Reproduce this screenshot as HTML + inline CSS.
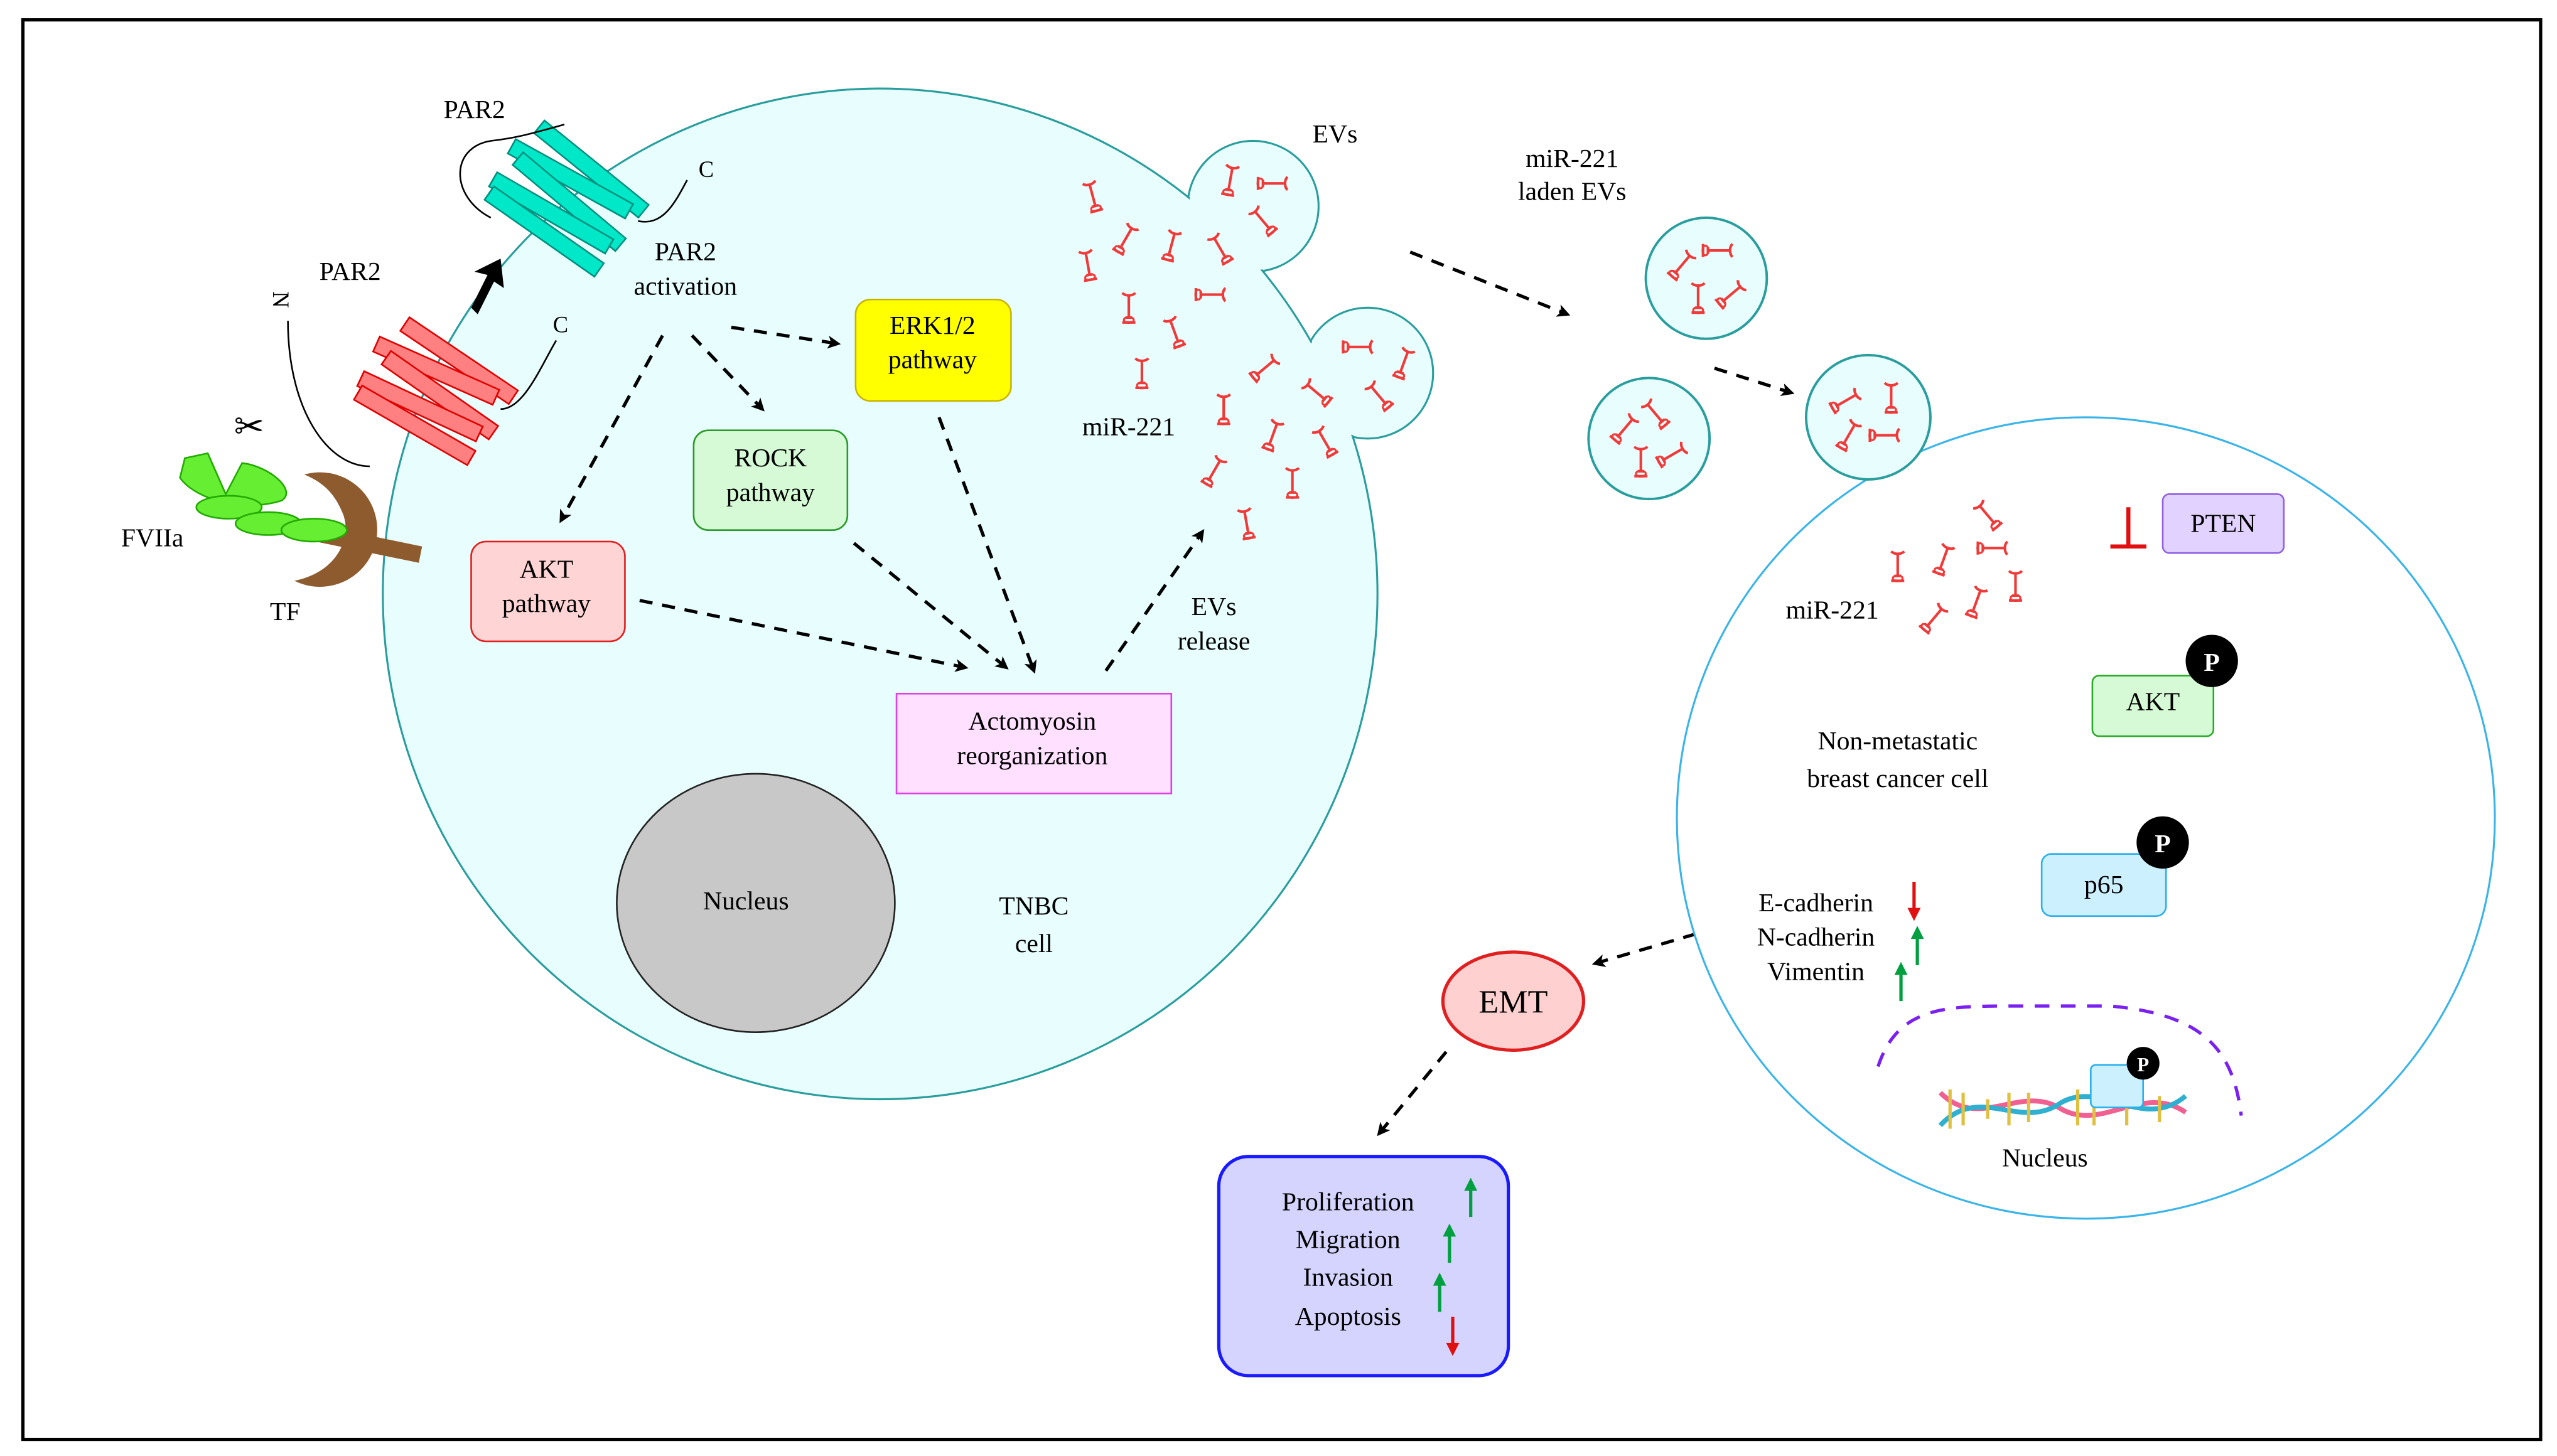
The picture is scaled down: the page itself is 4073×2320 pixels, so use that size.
<!DOCTYPE html>
<html><head><meta charset="utf-8"><style>
html,body{margin:0;padding:0;background:#fff}
svg{display:block}
svg text{font-family:"Liberation Serif","DejaVu Serif",serif}
</style></head><body>
<svg width="4073" height="2320" viewBox="0 0 1563 890" xmlns="http://www.w3.org/2000/svg" font-family="Liberation Serif, serif">
<defs>
<marker id="ah" markerWidth="8" markerHeight="8" refX="6" refY="4" orient="auto" markerUnits="userSpaceOnUse"><path d="M0,0 L8,4 L0,8 L2,4 Z" fill="#000"/></marker>
<g id="mi"><path d="M-4,-9 C-2,-7 2,-7 4,-9 M0,-8 L0,6 M-4,9 L4,9 M-2,6 L2,6" stroke="#f03a3a" stroke-width="1.6" fill="none"/><ellipse cx="0" cy="7.5" rx="3" ry="1.8" fill="none" stroke="#f03a3a" stroke-width="1.2"/></g>
<g id="up"><path d="M0,12 L0,-6" stroke="#00a040" stroke-width="2"/><path d="M-4,-4 L0,-12 L4,-4 Z" fill="#00a040"/></g>
<g id="dn"><path d="M0,-12 L0,6" stroke="#e01010" stroke-width="2"/><path d="M-4,4 L0,12 L4,4 Z" fill="#e01010"/></g>
</defs>
<rect x="0" y="0" width="1563" height="890" fill="#fff"/>
<rect x="14" y="12" width="1539" height="868" fill="none" stroke="#000" stroke-width="2"/>

<!-- TNBC cell -->
<circle cx="766" cy="126" r="40" fill="#e8fdfd" stroke="#2a9d9d" stroke-width="1.2"/>
<circle cx="836" cy="228" r="40" fill="#e8fdfd" stroke="#2a9d9d" stroke-width="1.2"/>
<ellipse cx="538" cy="363" rx="304" ry="309" fill="#e8fdfd" stroke="#2a9d9d" stroke-width="1.2"/>
<circle cx="766" cy="126" r="39" fill="#e8fdfd"/>
<circle cx="836" cy="228" r="39" fill="#e8fdfd"/>

<ellipse cx="462" cy="552" rx="85" ry="79" fill="#c8c8c8" stroke="#222" stroke-width="1"/>
<text x="456" y="556" font-size="16" text-anchor="middle">Nucleus</text>
<text x="632" y="559" font-size="16" text-anchor="middle">TNBC</text>
<text x="632" y="582" font-size="16" text-anchor="middle">cell</text>

<!-- PAR2 receptors -->
<g transform="translate(265,240) rotate(30)" fill="#ff8080" stroke="#e00000" stroke-width="1">
<rect x="-38" y="-30" width="80" height="10" transform="rotate(4)"/><rect x="-44" y="-18" width="80" height="10" transform="rotate(-6)"/><rect x="-36" y="-6" width="80" height="10" transform="rotate(5)"/><rect x="-44" y="6" width="80" height="10" transform="rotate(-5)"/><rect x="-40" y="18" width="80" height="10"/>
</g>
<path d="M176,196 C176,250 200,285 226,285" stroke="#000" fill="none"/>
<path d="M306,250 C320,250 330,225 340,208" stroke="#000" fill="none"/>
<text x="165" y="190" font-size="14" transform="rotate(90 172 185)">N</text>
<text x="338" y="203" font-size="14">C</text>
<g transform="translate(345,122) rotate(35)" fill="#00e8c8" stroke="#009080" stroke-width="1">
<rect x="-40" y="-30" width="82" height="10" transform="rotate(4)"/><rect x="-44" y="-18" width="82" height="10" transform="rotate(-6)"/><rect x="-38" y="-6" width="82" height="10" transform="rotate(5)"/><rect x="-44" y="6" width="82" height="10" transform="rotate(-5)"/><rect x="-40" y="18" width="82" height="10"/>
</g>
<path d="M300,133 C275,120 275,90 300,86 C318,84 330,80 345,76" stroke="#000" fill="none"/>
<path d="M390,135 C405,138 412,125 420,110" stroke="#000" fill="none"/>
<text x="427" y="108" font-size="14">C</text>
<path d="M288,188 L298,168 L290,166 L306,158 L308,176 L302,172 L292,192 Z" fill="#000"/>
<text x="290" y="72" font-size="16" text-anchor="middle">PAR2</text>
<text x="214" y="171" font-size="16" text-anchor="middle">PAR2</text>
<text x="419" y="159" font-size="16" text-anchor="middle">PAR2</text>
<text x="419" y="180" font-size="16" text-anchor="middle">activation</text>
<text x="143" y="268" font-size="22">✂</text>

<!-- FVIIa / TF -->
<path d="M195,321 L258,334 L256,344 L193,331 Z" fill="#8d5b2e"/>
<path d="M186,290 A35,35 0 1,1 180,355 C205,350 215,330 210,315 C205,302 198,295 186,290 Z" fill="#8d5b2e"/>
<path d="M113,280 L127,277 L138,302 L148,283 C165,285 182,300 172,306 C150,313 120,306 110,292 Z" fill="#66ee33" stroke="#22aa00"/>
<ellipse cx="140" cy="310" rx="20" ry="7" fill="#66ee33" stroke="#22aa00"/>
<ellipse cx="164" cy="320" rx="20" ry="7" fill="#66ee33" stroke="#22aa00"/>
<ellipse cx="192" cy="324" rx="20" ry="7" fill="#66ee33" stroke="#22aa00"/>
<text x="74" y="334" font-size="16">FVIIa</text>
<text x="165" y="379" font-size="16">TF</text>

<!-- boxes -->
<rect x="523" y="183" width="95" height="62" rx="9" fill="#ffff00" stroke="#c8b400"/>
<text x="570" y="204" font-size="16" text-anchor="middle">ERK1/2</text>
<text x="570" y="225" font-size="16" text-anchor="middle">pathway</text>
<rect x="424" y="263" width="94" height="61" rx="9" fill="#d6fad6" stroke="#2a9a2a"/>
<text x="471" y="285" font-size="16" text-anchor="middle">ROCK</text>
<text x="471" y="306" font-size="16" text-anchor="middle">pathway</text>
<rect x="288" y="331" width="94" height="61" rx="9" fill="#ffd4d4" stroke="#e02020"/>
<text x="334" y="353" font-size="16" text-anchor="middle">AKT</text>
<text x="334" y="374" font-size="16" text-anchor="middle">pathway</text>
<rect x="548" y="424" width="168" height="61" fill="#ffe0ff" stroke="#e040e0"/>
<text x="631" y="446" font-size="16" text-anchor="middle">Actomyosin</text>
<text x="631" y="467" font-size="16" text-anchor="middle">reorganization</text>

<!-- arrows -->
<g stroke="#000" stroke-width="2" stroke-dasharray="8,6" fill="none" marker-end="url(#ah)">
<path d="M405,205 L343,318"/>
<path d="M423,205 L466,250"/>
<path d="M447,200 L512,210"/>
<path d="M391,367 L590,408"/>
<path d="M522,332 L615,408"/>
<path d="M574,255 L632,410"/>
<path d="M676,410 L735,325"/>
<path d="M862,154 L958,192"/>
<path d="M1048,225 L1095,240"/>
<path d="M1165,290 L1172,315"/>
<path d="M1248,332 L1278,328"/>
<path d="M1346,350 L1318,396"/>
<path d="M1294,462 L1285,512"/>
<path d="M1283,572 L1292,640"/>
<path d="M1050,567 L975,589"/>
<path d="M884,643 L843,693"/>
<path d="M1226,672 L1226,600 L1185,600"/>
</g>
<text x="742" y="376" font-size="16" text-anchor="middle">EVs</text>
<text x="742" y="397" font-size="16" text-anchor="middle">release</text>
<text x="816" y="87" font-size="16" text-anchor="middle">EVs</text>
<text x="690" y="266" font-size="16" text-anchor="middle">miR-221</text>
<text x="961" y="102" font-size="16" text-anchor="middle">miR-221</text>
<text x="961" y="122" font-size="16" text-anchor="middle">laden EVs</text>

<!-- miRNA in TNBC -->
<use href="#mi" transform="translate(668,120) rotate(-15)"/>
<use href="#mi" transform="translate(688,146) rotate(30)"/>
<use href="#mi" transform="translate(716,150) rotate(15)"/>
<use href="#mi" transform="translate(746,152) rotate(-30)"/>
<use href="#mi" transform="translate(665,162) rotate(-10)"/>
<use href="#mi" transform="translate(690,188)"/>
<use href="#mi" transform="translate(740,180) rotate(90)"/>
<use href="#mi" transform="translate(718,203) rotate(-20)"/>
<use href="#mi" transform="translate(698,228)"/>
<use href="#mi" transform="translate(752,110) rotate(10)"/>
<use href="#mi" transform="translate(778,112) rotate(90)"/>
<use href="#mi" transform="translate(772,135) rotate(-40)"/>
<use href="#mi" transform="translate(773,225) rotate(50)"/>
<use href="#mi" transform="translate(805,240) rotate(-50)"/>
<use href="#mi" transform="translate(830,212) rotate(90)"/>
<use href="#mi" transform="translate(858,222) rotate(20)"/>
<use href="#mi" transform="translate(843,242) rotate(-40)"/>
<use href="#mi" transform="translate(748,250)"/>
<use href="#mi" transform="translate(778,266) rotate(20)"/>
<use href="#mi" transform="translate(810,270) rotate(-30)"/>
<use href="#mi" transform="translate(742,288) rotate(30)"/>
<use href="#mi" transform="translate(790,295)"/>
<use href="#mi" transform="translate(762,320) rotate(-10)"/>

<!-- right cell -->
<ellipse cx="1275" cy="500" rx="250" ry="245" fill="#fff" stroke="#3ab4e8" stroke-width="1.2"/>
<circle cx="1043" cy="170" r="37" fill="#e8fdfd" stroke="#2a9d9d" stroke-width="1.5"/>
<circle cx="1008" cy="268" r="37" fill="#e8fdfd" stroke="#2a9d9d" stroke-width="1.5"/>
<circle cx="1142" cy="255" r="38" fill="#e8fdfd" stroke="#2a9d9d" stroke-width="1.5"/>
<use href="#mi" transform="translate(1028,162) rotate(40)"/>
<use href="#mi" transform="translate(1050,153) rotate(90)"/>
<use href="#mi" transform="translate(1038,182)"/>
<use href="#mi" transform="translate(1058,180) rotate(50)"/>
<use href="#mi" transform="translate(993,262) rotate(40)"/>
<use href="#mi" transform="translate(1012,253) rotate(-40)"/>
<use href="#mi" transform="translate(1003,282)"/>
<use href="#mi" transform="translate(1022,278) rotate(60)"/>
<use href="#mi" transform="translate(1128,245) rotate(60)"/>
<use href="#mi" transform="translate(1156,243)"/>
<use href="#mi" transform="translate(1130,266) rotate(30)"/>
<use href="#mi" transform="translate(1152,266) rotate(90)"/>
<use href="#mi" transform="translate(1215,315) rotate(-40)"/>
<use href="#mi" transform="translate(1218,335) rotate(90)"/>
<use href="#mi" transform="translate(1160,346)"/>
<use href="#mi" transform="translate(1188,342) rotate(20)"/>
<use href="#mi" transform="translate(1232,358)"/>
<use href="#mi" transform="translate(1208,368) rotate(20)"/>
<use href="#mi" transform="translate(1182,378) rotate(40)"/>
<text x="1120" y="378" font-size="16" text-anchor="middle">miR-221</text>
<path d="M1301,310 L1301,334 M1290,334 L1312,334" stroke="#e01010" stroke-width="2.5"/>
<rect x="1322" y="302" width="74" height="36" rx="4" fill="#e2d2ff" stroke="#9060e0"/>
<text x="1359" y="325" font-size="16" text-anchor="middle">PTEN</text>
<rect x="1279" y="413" width="74" height="37" rx="4" fill="#d6fad6" stroke="#2aaa2a"/>
<text x="1316" y="434" font-size="16" text-anchor="middle">AKT</text>
<circle cx="1352" cy="404" r="16" fill="#000"/>
<text x="1352" y="410" font-size="16" font-weight="bold" text-anchor="middle" fill="#fff">P</text>
<rect x="1248" y="522" width="76" height="38" rx="6" fill="#cdf0ff" stroke="#2ab0ea"/>
<text x="1286" y="546" font-size="16" text-anchor="middle">p65</text>
<circle cx="1322" cy="515" r="16" fill="#000"/>
<text x="1322" y="521" font-size="16" font-weight="bold" text-anchor="middle" fill="#fff">P</text>
<text x="1160" y="458" font-size="16" text-anchor="middle">Non-metastatic</text>
<text x="1160" y="481" font-size="16" text-anchor="middle">breast cancer cell</text>
<text x="1110" y="557" font-size="16" text-anchor="middle">E-cadherin</text>
<text x="1110" y="578" font-size="16" text-anchor="middle">N-cadherin</text>
<text x="1110" y="599" font-size="16" text-anchor="middle">Vimentin</text>
<use href="#dn" x="1170" y="551"/>
<use href="#up" x="1172" y="578"/>
<use href="#up" x="1162" y="600"/>
<path d="M1148,652 C1160,615 1190,615 1230,615 L1290,615 C1345,620 1365,640 1370,682" stroke="#7a20f0" stroke-width="2" stroke-dasharray="9,7" fill="none"/>
<!-- DNA -->
<g stroke-width="3" fill="none">
<path d="M1186,668 C1210,692 1235,662 1260,678 C1285,692 1310,662 1336,680" stroke="#f06090"/>
<path d="M1186,688 C1210,662 1235,692 1260,674 C1285,660 1310,692 1336,670" stroke="#30b0d0"/>
<path d="M1192,666 L1192,690 M1200,668 L1200,688 M1215,672 L1215,684 M1228,668 L1228,688 M1240,668 L1240,686 M1270,666 L1270,688 M1280,668 L1280,688 M1300,668 L1300,688 M1320,670 L1320,686" stroke="#e0c040" stroke-width="2"/>
</g>
<rect x="1278" y="651" width="32" height="26" rx="3" fill="#cdf0ff" stroke="#2ab0ea"/>
<circle cx="1310" cy="650" r="10" fill="#000"/>
<text x="1310" y="655" font-size="12" font-weight="bold" text-anchor="middle" fill="#fff">P</text>
<text x="1250" y="713" font-size="16" text-anchor="middle">Nucleus</text>

<!-- EMT -->
<ellipse cx="925" cy="612" rx="43" ry="30" fill="#ffd0d0" stroke="#e02020" stroke-width="2"/>
<text x="925" y="619" font-size="20" text-anchor="middle">EMT</text>
<rect x="745" y="707" width="177" height="134" rx="18" fill="#d4d4ff" stroke="#1a1aff" stroke-width="2"/>
<text x="824" y="740" font-size="16" text-anchor="middle">Proliferation</text>
<text x="824" y="763" font-size="16" text-anchor="middle">Migration</text>
<text x="824" y="786" font-size="16" text-anchor="middle">Invasion</text>
<text x="824" y="810" font-size="16" text-anchor="middle">Apoptosis</text>
<use href="#up" x="899" y="732"/>
<use href="#up" x="886" y="760"/>
<use href="#up" x="880" y="790"/>
<use href="#dn" x="888" y="817"/>
</svg>
</body></html>
